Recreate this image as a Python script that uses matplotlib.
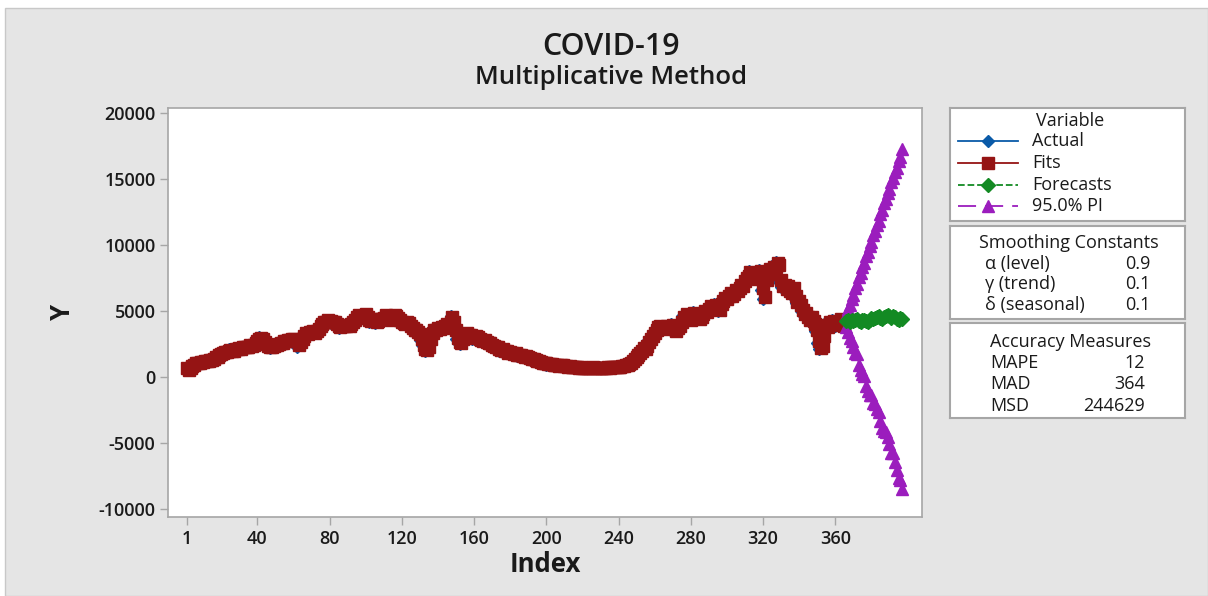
import matplotlib

matplotlib.use("Agg")
import matplotlib.pyplot as plt  # noqa: E402
import numpy as np  # noqa: E402
from matplotlib.patches import Rectangle  # noqa: E402

plt.rcParams["font.family"] = ["Open Sans", "DejaVu Sans"]
plt.rcParams["axes.unicode_minus"] = False

actual = [
    500, 600, 750, 850, 1000, 1100, 1050, 1150, 1100, 1200,
    1150, 1250, 1300, 1250, 1400, 1450, 1550, 1600, 1700, 1850,
    1900, 1850, 2000, 2100, 2000, 1900, 2050, 2150, 2200, 2100,
    2250, 2300, 2200, 2350, 2400, 2300, 2450, 2600, 2700, 2850,
    3000, 2900, 2700, 2500, 2350, 2250, 2200, 2300, 2400, 2350,
    2500, 2600, 2550, 2700, 2650, 2800, 2750, 2900, 2850, 2700,
    2800, 2300, 2600, 2900, 3100, 3300, 3200, 3400, 3350, 3500,
    3300, 3450, 3600, 3800, 4000, 4200, 4100, 4300, 4150, 4250,
    4100, 4200, 4050, 3800, 3750, 3900, 3850, 3800, 3950, 3900,
    3950, 4100, 4300, 4500, 4700, 4600, 4400, 4600, 4800, 4500,
    4300, 4200, 4400, 4300, 4100, 4250, 4400, 4350, 4500, 4700,
    4600, 4400, 4300, 4500, 4700, 4650, 4400, 4300, 4200, 4100,
    4000, 4200, 4100, 3900, 3700, 3500, 3600, 3400, 3200, 2800,
    2400, 2100, 2000, 2300, 2900, 3400, 3600, 3500, 3700, 3600,
    3800, 3700, 3900, 4000, 3800, 4200, 4600, 4100, 3500, 2900,
    2600, 2500, 2900, 3200, 3300, 3100, 3200, 3000, 2900, 3100,
    3000, 2900, 2800, 2700, 2800, 2600, 2500, 2600, 2400, 2300,
    2200, 2300, 2100, 2000, 2100, 1900, 2000, 1800, 1900, 1850,
    1700, 1800, 1650, 1600, 1700, 1550, 1500, 1600, 1450, 1400,
    1350, 1300, 1250, 1200, 1150, 1100, 1050, 1100, 1000, 950,
    1000, 950, 900, 920, 880, 850, 900, 870, 820, 800,
    780, 820, 760, 740, 800, 720, 700, 760, 690, 710,
    680, 720, 650, 700, 740, 690, 660, 710, 730, 680,
    700, 720, 750, 690, 730, 760, 740, 780, 800, 770,
    800, 850, 900, 950, 1000, 1100, 1250, 1400, 1500, 1650,
    1800, 2000, 2200, 2100, 2400, 2700, 2900, 3100, 3400, 3600,
    3800, 3900, 3700, 3600, 3800, 3900, 3700, 3800, 4000, 3600,
    3500, 3700, 3900, 4200, 4600, 4400, 4800, 4700, 4300, 4500,
    4900, 4700, 4500, 4400, 4600, 4800, 5000, 4900, 5200, 5400,
    5300, 5100, 5500, 5300, 5000, 5600, 5800, 6000, 5900, 6200,
    6400, 6100, 6300, 6600, 6500, 6800, 7000, 6900, 7300, 7500,
    7700, 8000, 7800, 7600, 7900, 7400, 7700, 8100, 6600, 5900,
    7500, 7900, 8200, 7800, 8400, 8300, 8700, 8500, 7200, 6800,
    7000, 6600, 6900, 6500, 6300, 6800, 6100, 5600, 5800, 5400,
    5000, 4700, 4900, 4500, 4300, 4600, 4200, 4000, 3500, 2600,
    2100, 2400, 3200, 4000, 3800, 4200, 4100, 4300, 4000, 3900,
    4200, 4400, 4100, 3800, 4300,
]

fits = [
    650, 550, 650, 800, 900, 1050, 1100, 1100, 1150, 1150,
    1200, 1200, 1250, 1300, 1300, 1400, 1500, 1550, 1650, 1750,
    1850, 1900, 1900, 2000, 2050, 2000, 1950, 2100, 2150, 2200,
    2150, 2250, 2300, 2250, 2300, 2400, 2350, 2450, 2600, 2700,
    2850, 2950, 2850, 2650, 2500, 2350, 2250, 2250, 2350, 2400,
    2400, 2500, 2600, 2600, 2700, 2700, 2800, 2800, 2900, 2850,
    2750, 2750, 2400, 2650, 2900, 3100, 3300, 3250, 3400, 3400,
    3500, 3350, 3500, 3650, 3850, 4050, 4200, 4150, 4300, 4200,
    4250, 4150, 4200, 4050, 3850, 3800, 3900, 3850, 3850, 3950,
    3900, 4000, 4150, 4350, 4550, 4700, 4600, 4450, 4600, 4750,
    4550, 4350, 4250, 4400, 4300, 4150, 4250, 4400, 4400, 4500,
    4700, 4600, 4400, 4350, 4500, 4700, 4650, 4450, 4300, 4200,
    4100, 4050, 4200, 4100, 3900, 3700, 3550, 3600, 3450, 3250,
    2850, 2450, 2150, 2050, 2300, 2850, 3350, 3600, 3550, 3700,
    3650, 3800, 3750, 3900, 4000, 3850, 4200, 4550, 4150, 3550,
    2950, 2650, 2550, 2900, 3200, 3300, 3150, 3200, 3050, 2950,
    3100, 3000, 2900, 2800, 2750, 2800, 2650, 2550, 2600, 2450,
    2350, 2250, 2300, 2150, 2050, 2100, 1950, 2000, 1850, 1900,
    1850, 1750, 1800, 1700, 1650, 1700, 1600, 1550, 1600, 1500,
    1450, 1400, 1350, 1300, 1250, 1200, 1150, 1100, 1100, 1050,
    1000, 1000, 960, 920, 920, 890, 870, 900, 880, 840,
    810, 790, 820, 770, 750, 790, 730, 710, 750, 700,
    710, 690, 710, 670, 700, 730, 700, 670, 700, 720,
    690, 700, 720, 740, 700, 730, 750, 750, 780, 790,
    780, 800, 840, 890, 940, 990, 1080, 1230, 1380, 1490,
    1640, 1790, 1980, 2180, 2120, 2380, 2670, 2880, 3080, 3370,
    3580, 3780, 3890, 3720, 3620, 3780, 3880, 3720, 3800, 3980,
    3650, 3520, 3680, 3880, 4180, 4560, 4430, 4760, 4700, 4350,
    4480, 4860, 4720, 4530, 4420, 4580, 4780, 4980, 4920, 5170,
    5380, 5320, 5140, 5460, 5320, 5050, 5540, 5780, 5980, 5920,
    6170, 6380, 6140, 6280, 6570, 6510, 6770, 6980, 6920, 7260,
    7480, 7680, 7970, 7820, 7630, 7870, 7450, 7680, 8060, 6750,
    6050, 7350, 7840, 8170, 7840, 8340, 8310, 8650, 8520, 7340,
    6900, 6990, 6650, 6880, 6530, 6330, 6750, 6170, 5680, 5770,
    5440, 5050, 4740, 4880, 4540, 4330, 4570, 4230, 4030, 3570,
    2710, 2190, 2380, 3120, 3920, 3820, 4160, 4110, 4280, 4030,
    3920, 4170, 4370, 4130, 3850,
]

# forecasts for index 366..397 with the 95% prediction interval
forecasts = [
    4250, 4300, 4200, 4350, 4250, 4300, 4400, 4250, 4200, 4300,
    4350, 4250, 4200, 4300, 4450, 4400, 4500, 4550, 4600, 4500,
    4400, 4550, 4650, 4700, 4600, 4500, 4650, 4550, 4400, 4350,
    4450, 4400,
]
pi_upper = [
    4700, 5150, 5450, 5950, 6250, 6750, 7050, 7550, 7850, 8350,
    8650, 9150, 9450, 9950, 10250, 10750, 11050, 11550, 11850, 12350,
    12650, 13150, 13450, 13950, 14250, 14750, 15050, 15550, 15850, 16350,
    16700, 17250,
]
pi_lower = [
    3800, 3450, 2950, 2750, 2250, 1850, 1750, 950, 550, 250,
    50, -650, -1050, -1350, -1350, -1950, -2050, -2450, -2650, -3350,
    -3850, -4050, -4150, -4550, -5050, -5750, -5750, -6450, -7050, -7650,
    -7800, -8450,
]

x_ticks = [1, 40, 80, 120, 160, 200, 240, 280, 320, 360]
y_ticks = [-10000, -5000, 0, 5000, 10000, 15000, 20000]

smoothing = [("\u03b1 (level)", "0.9"), ("\u03b3 (trend)", "0.1"), ("\u03b4 (seasonal)", "0.1")]
accuracy = [("MAPE", "12"), ("MAD", "364"), ("MSD", "244629")]

BLUE = "#0a5aa8"
RED = "#951414"
GREEN = "#138a23"
PURPLE = "#9b1dbd"
GRAY_BG = "#e5e5e5"
SPINE = "#a6a6a6"
TXT = "#1a1a1a"

W, H = 1208, 596


def fx(px):
    return px / W


def fy(py):
    return 1 - py / H


fig = plt.figure(figsize=(W / 100, H / 100), dpi=100, facecolor="white")
fig.patches.append(Rectangle((fx(5), 0), 1 - fx(5), fy(8), transform=fig.transFigure,
                             facecolor=GRAY_BG, edgecolor="#c8c8c8", lw=1, zorder=-10))

ax = fig.add_axes([fx(168), fy(517), fx(922) - fx(168), fy(108) - fy(517)])
ax.set_facecolor("white")

idx = np.arange(1, len(actual) + 1)
fidx = np.arange(len(actual) + 1, len(actual) + 1 + len(forecasts))

ax.plot(idx, actual, color=BLUE, lw=1, marker="D", ms=6, zorder=2)
ax.plot(idx, fits, color=RED, lw=1, marker="s", ms=8.5, zorder=3)
ax.plot(fidx, pi_upper, color=PURPLE, lw=1, marker="^", ms=9, zorder=3)
ax.plot(fidx, pi_lower, color=PURPLE, lw=1, marker="^", ms=9, zorder=3)
ax.plot(fidx, forecasts, color=GREEN, lw=1, ls="--", marker="D", ms=7, zorder=4)

ax.set_xlim(-9.5, 408)
ax.set_ylim(-10600, 20380)
ax.set_xticks(x_ticks)
ax.set_yticks(y_ticks)
ax.tick_params(direction="out", length=6, width=1, color=SPINE, labelsize=13,
               labelcolor=TXT, pad=3)
for lab in ax.get_xticklabels() + ax.get_yticklabels():
    lab.set_fontweight("semibold")
for s in ax.spines.values():
    s.set_color(SPINE)
    s.set_linewidth(1.2)

fig.text(fx(611), fy(47), "COVID-19", ha="center", va="center", fontsize=22,
         fontweight="semibold", color=TXT)
fig.text(fx(611), fy(78), "Multiplicative Method", ha="center", va="center", fontsize=18.5,
         fontweight="semibold", color=TXT)
fig.text(fx(545), fy(565), "Index", ha="center", va="center", fontsize=18.5,
         fontweight="bold", color=TXT)
fig.text(fx(62), fy(312), "Y", ha="center", va="center", fontsize=18.5,
         fontweight="bold", color=TXT, rotation=90)


def box(top, bottom):
    b = fig.add_axes([fx(950), fy(bottom), fx(1185) - fx(950), fy(top) - fy(bottom)])
    b.set_xlim(950, 1185)
    b.set_ylim(bottom, top)
    b.set_xticks([])
    b.set_yticks([])
    b.set_facecolor("white")
    for s in b.spines.values():
        s.set_color(SPINE)
        s.set_linewidth(1.5)
    return b


FS = 13

# legend box
lb = box(108, 221)
lb.text(1070, 121, "Variable", ha="center", va="center", fontsize=FS, color=TXT)
legend_rows = [
    ("Actual", BLUE, "-", "D", 6, 141),
    ("Fits", RED, "-", "s", 8, 163),
    ("Forecasts", GREEN, "--", "D", 7, 185),
    ("95.0% PI", PURPLE, (0, (10, 5)), "^", 8, 206),
]
for label, col, ls, mk, ms, yy in legend_rows:
    lb.plot([958, 1018], [yy, yy], color=col, ls=ls, lw=1.3)
    lb.plot([988], [yy], color=col, marker=mk, ms=ms)
    lb.text(1032, yy, label, ha="left", va="center", fontsize=FS, color=TXT)

# smoothing constants box
sb = box(226, 319)
sb.text(1069, 243, "Smoothing Constants", ha="center", va="center", fontsize=FS, color=TXT)
for (lab, val), yy in zip(smoothing, [264, 284, 305]):
    sb.text(985, yy, lab, ha="left", va="center", fontsize=FS, color=TXT)
    sb.text(1150, yy, val, ha="right", va="center", fontsize=FS, color=TXT)

# accuracy measures box
mb = box(323, 418)
mb.text(1070, 342, "Accuracy Measures", ha="center", va="center", fontsize=FS, color=TXT)
for (lab, val), yy in zip(accuracy, [363, 384, 406]):
    mb.text(990, yy, lab, ha="left", va="center", fontsize=FS, color=TXT)
    mb.text(1145, yy, val, ha="right", va="center", fontsize=FS, color=TXT)

fig.savefig("out.png", dpi=100, facecolor=fig.get_facecolor())
plt.close(fig)
